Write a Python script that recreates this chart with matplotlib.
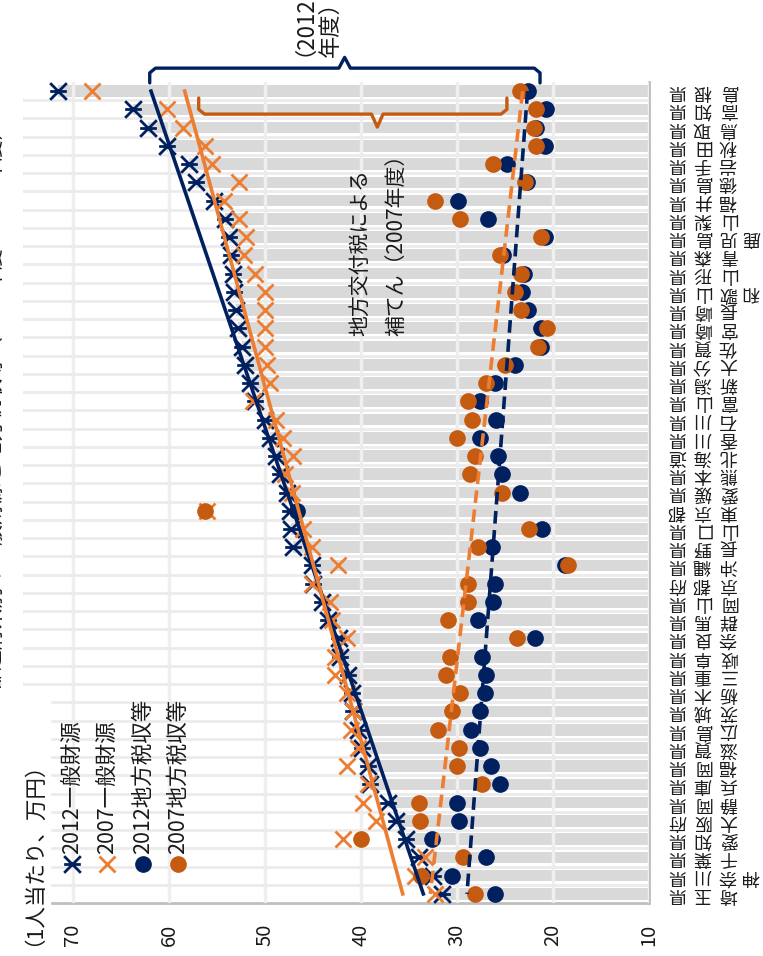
import matplotlib.pyplot as plt
import numpy as np
from matplotlib.path import Path
from matplotlib.patches import Rectangle

plt.rcParams['font.family'] = ['Noto Sans CJK JP', 'DejaVu Sans']

# rows from top (largest 2012 general revenue) to bottom
prefs = ['島根県', '高知県', '鳥取県', '秋田県', '岩手県', '徳島県', '福井県', '山梨県',
         '鹿児島県', '青森県', '山形県', '和歌山県', '長崎県', '宮崎県', '佐賀県', '大分県',
         '新潟県', '富山県', '石川県', '香川県', '北海道', '熊本県', '愛媛県', '東京都',
         '山口県', '長野県', '沖縄県', '京都府', '岡山県', '群馬県', '奈良県', '岐阜県',
         '三重県', '栃木県', '茨城県', '広島県', '滋賀県', '福岡県', '兵庫県', '静岡県',
         '大阪府', '愛知県', '千葉県', '神奈川県', '埼玉県']

gen2012 = [71.6, 63.75, 62.2, 60.2, 57.9, 57.2, 55.3, 54.2, 53.7, 53.5, 53.3, 53.2, 53.0,
           52.8, 52.4, 52.1, 51.6, 51.0, 50.0, 49.5, 48.8, 48.4, 47.75, 47.4, 47.3, 47.05,
           45.1, 45.0, 44.1, 43.4, 42.3, 42.2, 41.35, 40.9, 40.8, 40.3, 39.9, 39.3, 39.1,
           37.2, 36.4, 35.3, 34.0, 32.5, 31.6]
gen2007 = [68.0, 60.2, 58.5, 56.25, 55.55, 52.7, 54.3, 52.7, 52.0, 52.2, 51.0, 50.0, 50.0,
           50.0, 50.0, 49.8, 49.5, 51.25, 48.8, 48.1, 47.05, 47.9, 47.2, 56.0, 46.0, 45.1,
           42.35, 45.1, 43.2, 43.05, 41.5, 42.7, 42.7, 41.5, 40.8, 41.0, 40.3, 41.5, 39.3,
           39.8, 38.4, 41.9, 33.3, 34.4, 32.3]
tax2012 = [22.6, 20.7, 21.8, 20.8, 24.8, 22.7, 29.9, 26.8, 20.8, 25.2, 23.0, 23.2, 22.6,
           21.3, 21.3, 24.0, 26.0, 27.6, 25.9, 27.6, 25.7, 25.35, 23.4, 46.7, 21.1, 26.4,
           18.8, 26.0, 26.25, 27.8, 21.9, 27.4, 27.0, 27.1, 27.6, 28.5, 27.6, 26.45, 25.5,
           30.0, 29.75, 32.65, 27.0, 30.55, 26.0]
tax2007 = [23.4, 21.8, 22.0, 21.8, 26.25, 22.9, 32.3, 29.7, 21.25, 25.5, 23.3, 24.0, 23.3,
           20.6, 21.6, 25.0, 27.0, 28.9, 28.4, 30.0, 28.1, 28.65, 25.35, 56.25, 22.55, 27.8,
           18.4, 28.8, 28.8, 30.9, 23.8, 30.7, 31.1, 29.7, 30.55, 31.95, 29.75, 30.0, 27.4,
           34.0, 33.85, 40.0, 29.35, 33.7, 28.1]

legend_labels = ['2012一般財源', '2007一般財源', '2012地方税収等', '2007地方税収等']
value_ticks = [10, 20, 30, 40, 50, 60, 70]

NAVY = '#002060'
ORANGE = '#ED7D31'
BROWN = '#C55A11'
INK = '#1a1a1a'

star = Path([(-1, -1), (1, 1), (-1, 1), (1, -1), (-1, 0), (1, 0)],
            [Path.MOVETO, Path.LINETO, Path.MOVETO, Path.LINETO, Path.MOVETO, Path.LINETO])

fig = plt.figure(figsize=(7.63, 9.56), dpi=100)
L, R, T, B = 23, 649, 82, 903
ax = fig.add_axes([L / 763, (956 - B) / 956, (R - L) / 763, (B - T) / 956])

rows = np.arange(len(prefs))
n = len(prefs)

ax.barh(rows, np.array(gen2012) - 10, left=10, height=0.64, color='#d9d9d9', zorder=1)

ax.plot(gen2012, rows, ls='none', marker=star, ms=12, mew=2, color=NAVY, zorder=4)
ax.plot(gen2007, rows, ls='none', marker='x', ms=11, mew=2, color=ORANGE, zorder=4)
ax.plot(tax2012, rows, ls='none', marker='o', ms=11, color=NAVY, zorder=4)
ax.plot(tax2007, rows, ls='none', marker='o', ms=11, color=BROWN, zorder=4)

# linear trends
for vals, col, ls in [(gen2012, NAVY, '-'), (gen2007, ORANGE, '-'),
                      (tax2012, NAVY, '--'), (tax2007, ORANGE, '--')]:
    k, c = np.polyfit(rows, vals, 1)
    ax.plot(k * rows[[0, -1]] + c, rows[[0, -1]], ls=ls, color=col, lw=2.6,
            dashes=(3.5, 1.8) if ls == '--' else (None, None), zorder=5)

ax.set_xlim(75.2, 10)
ax.set_ylim(n - 0.5, -0.5)
ax.set_xticks(value_ticks)
ax.set_xticklabels([str(v) for v in value_ticks], rotation=90, fontsize=14.5, color=INK)
ax.set_yticks([])
ax.set_yticks(rows[:-1] + 0.5, minor=True)
ax.tick_params(length=0, which='both', pad=15)
ax.set_axisbelow(False)
ax.grid(axis='x', color='#efefef', lw=2.5)
ax.grid(axis='y', which='minor', color='#ebebeb', lw=2)
for s in ['top', 'left']:
    ax.spines[s].set_visible(False)
for s in ['bottom', 'right']:
    ax.spines[s].set_color('#bfbfbf')
    ax.spines[s].set_linewidth(2)

# category labels, drawn upside down one character at a time
cols = [(677 - L) / (R - L), (702 - L) / (R - L), (728 - L) / (R - L), (751 - L) / (R - L)]
tr = ax.get_yaxis_transform()
for i, name in enumerate(prefs):
    for j, ch in enumerate(reversed(name)):
        ax.text(cols[j], i, ch, transform=tr, rotation=180, ha='center', va='center',
                fontsize=13, color=INK, clip_on=False)

# brackets
bk = dict(lw=2.4, clip_on=False, solid_joinstyle='round', solid_capstyle='round', zorder=6)
ax.plot([62.0, 62.0, 61.4, 42.3, 41.7, 41.1, 21.95, 21.35, 21.35],
        [-0.45, -1.0, -1.26, -1.26, -1.85, -1.26, -1.26, -1.0, -0.45], color=NAVY, **bk)
ax.plot([56.9, 56.9, 56.3, 38.9, 38.3, 37.7, 25.4, 24.8, 24.8],
        [0.38, 1.0, 1.26, 1.26, 1.97, 1.26, 1.26, 1.0, 0.38], color=BROWN, **bk)

ax.text(40.1, 13.4, '地方交付税による', rotation=90, ha='center', va='bottom',
        fontsize=15, color=INK, zorder=7)
ax.text(36.3, 13.4, '補てん（2007年度）', rotation=90, ha='center', va='bottom',
        fontsize=15, color=INK, zorder=7)
ax.text(47.1, -1.95, '（2012', rotation=90, ha='center', va='bottom',
        fontsize=16, color=INK, clip_on=False)
ax.text(43.2, -1.85, '年度）', rotation=90, ha='center', va='bottom',
        fontsize=16, color=INK, clip_on=False)

# legend (rotated)
leg_x = [(72 - L) / (R - L), (107 - L) / (R - L), (143 - L) / (R - L), (178 - L) / (R - L)]
leg_style = [dict(marker=star, ms=12, mew=2, color=NAVY),
             dict(marker='x', ms=11, mew=2, color=ORANGE),
             dict(marker='o', ms=11, color=NAVY),
             dict(marker='o', ms=11, color=BROWN)]
for lx, lab, st in zip(leg_x, legend_labels, leg_style):
    ax.plot([lx], [(B - 864) / (B - T)], ls='none', transform=ax.transAxes,
            clip_on=False, zorder=6, **st)
    ax.text(lx, (B - 854) / (B - T), lab, transform=ax.transAxes, rotation=90,
            ha='center', va='bottom', fontsize=15.5, color=INK, zorder=6)

# axis unit and clipped title
fig.patches.append(Rectangle((10 / 763, 0), 40 / 763, (956 - 692) / 956,
                             transform=fig.transFigure, color='white', zorder=5))
fig.text(23 / 763, (956 - 946) / 956, '（1人当たり、万円）', rotation=90, ha='center',
         va='bottom', fontsize=15.5, color=INK, zorder=6)
fig.text(-6 / 763, (956 - 690) / 956, '都道府県別の一般財源と地方税収等（2007年度・2012年度）',
         rotation=90, ha='center', va='bottom', fontsize=15, color=INK)

fig.savefig('out.png', dpi=100)
